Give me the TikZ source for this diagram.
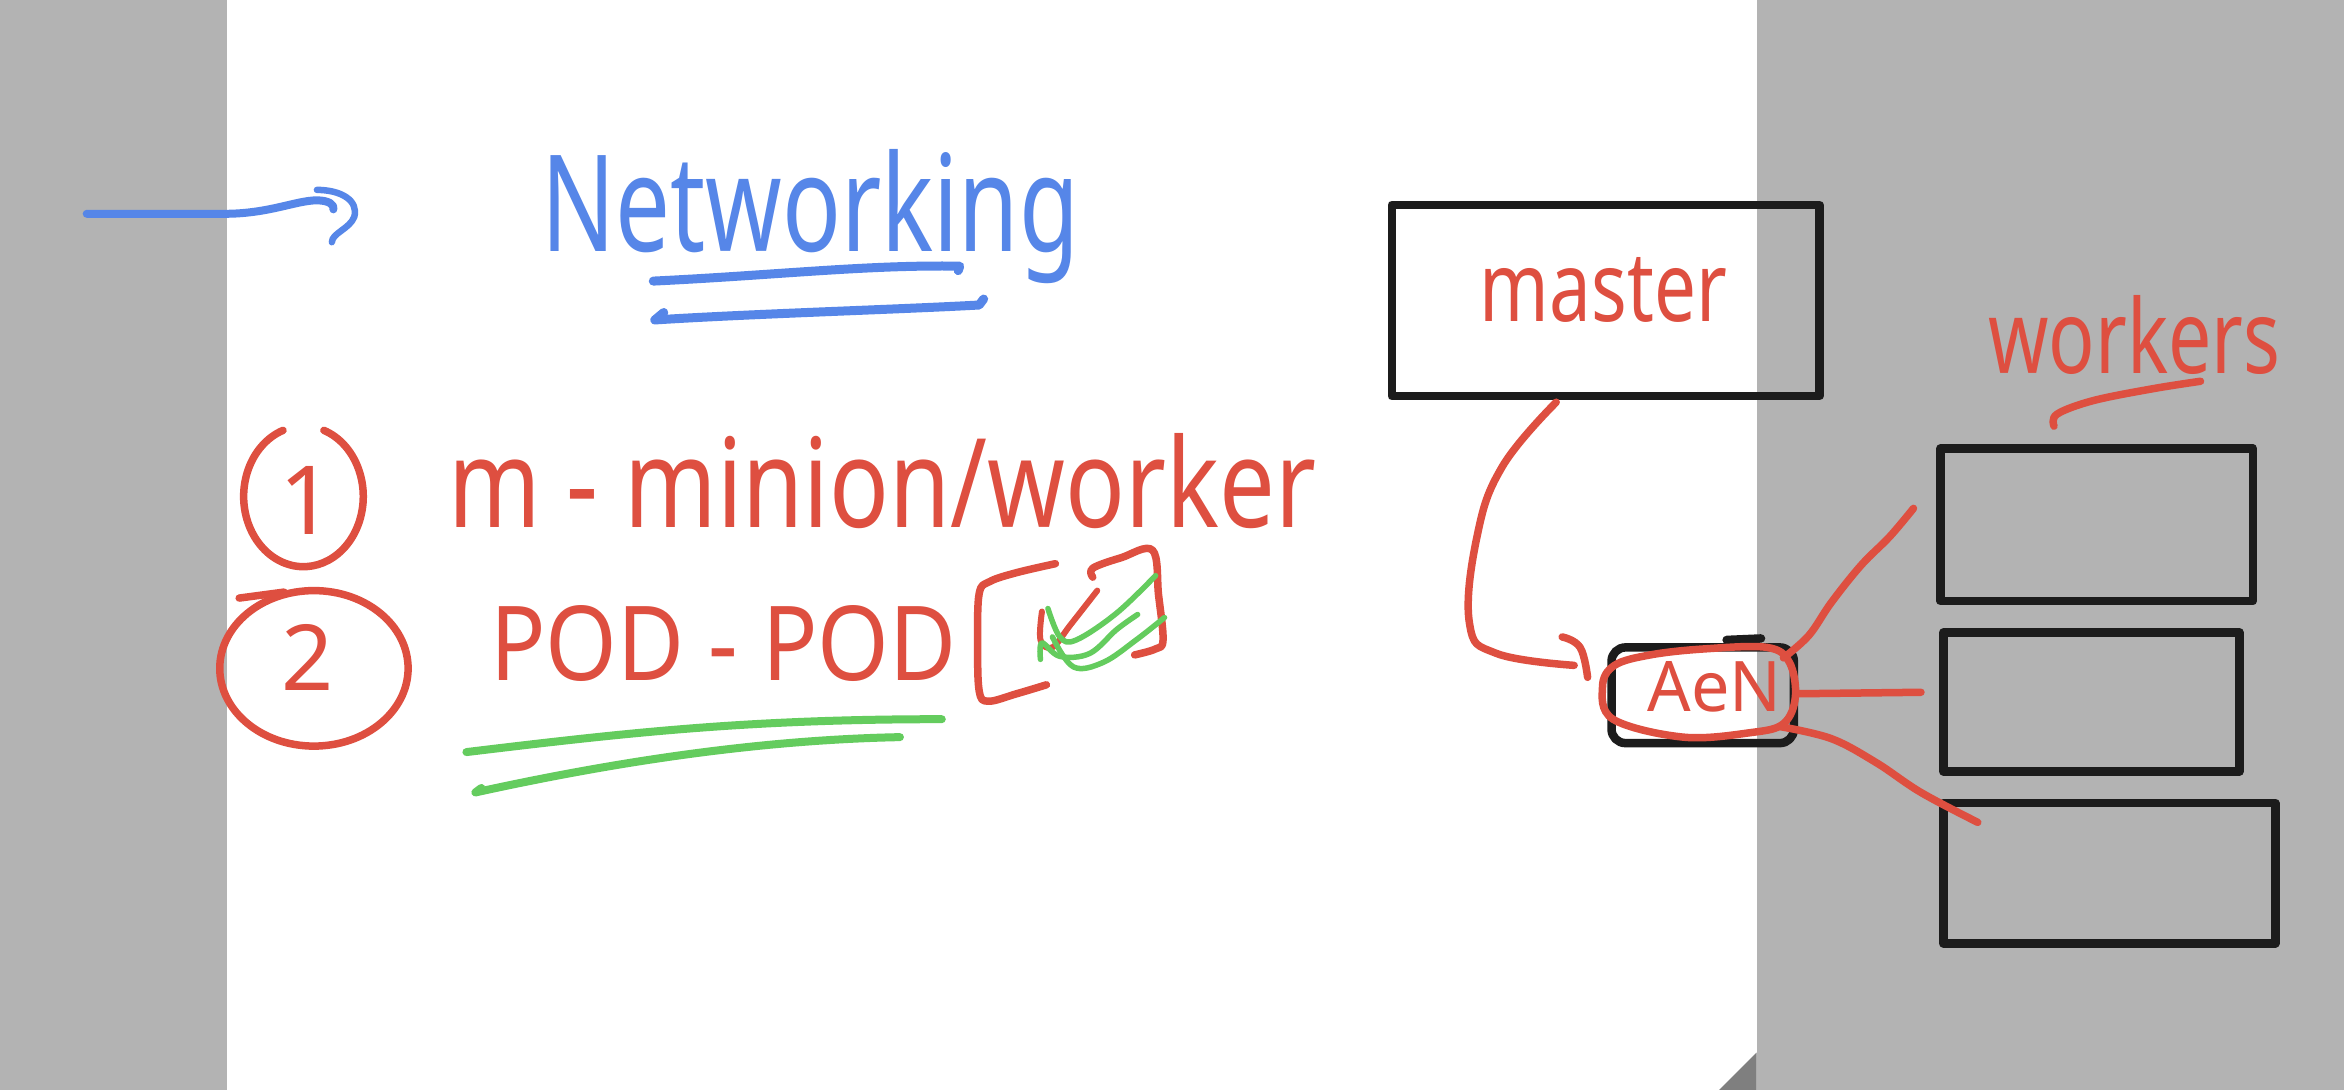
\documentclass[tikz,border=0pt]{standalone}
\usepackage{fontspec}
\setmainfont{Noto Sans}
\usepackage{graphicx}
\definecolor{inkblue}{HTML}{5686E8}
\definecolor{inkred}{HTML}{DE4F40}
\definecolor{inkgreen}{HTML}{64CC5E}
\definecolor{inkblack}{HTML}{1C1C1C}
\definecolor{bggray}{HTML}{B3B3B3}
\definecolor{foldgray}{HTML}{7F7F7F}
\begin{document}
\begin{tikzpicture}[x=1.4949pt,y=-1.4952pt,line cap=round,line join=round,
  redpen/.style={draw=inkred,line width=7.5pt},
  bluepen/.style={draw=inkblue,line width=8pt},
  greenpen/.style={draw=inkgreen,line width=7pt},
  blackpen/.style={draw=inkblack,line width=8.5pt},
  boxnode/.style={draw=inkblack,line width=8.5pt,inner sep=0pt},
  txt/.style={inner sep=0pt,outer sep=0pt}]
% background
\fill[bggray] (0,0) rectangle (1568,729);
\fill[white] (152,0) rectangle (1175,729);
\fill[foldgray] (1150,729) -- (1175,704) -- (1175,729) -- cycle;
\useasboundingbox (0,0) rectangle (1568,729);

% blue arrow
\coordinate (arrowtail) at (58,143);
\coordinate (arrowtip) at (223,140);
\draw[bluepen] (arrowtail) -- (150,143) .. controls (180,143) and (198,134) .. (212,134) .. controls (220,134) and (224,137) .. (arrowtip);
\draw[bluepen,line width=6.5pt] (212,127) .. controls (228,127) and (240,134) .. (237,145) .. controls (234,153) and (222,156) .. (222,162);

% title
\node[txt,text=inkblue,anchor=base west] (title) at (362,168) {\resizebox{538pt}{102pt}{Networking}};
\draw[bluepen,line width=9pt] (437,188) .. controls (520,184) and (580,177) .. (642,178) -- (641,181);
\draw[bluepen,line width=9pt] (444,209) -- (438,214) .. controls (500,210) and (600,207) .. (655,204) -- (658,200);

% item 1
\draw[redpen] ([shift={(290:40 and 47)}]203,332) arc[start angle=290,end angle=610,x radius=40,y radius=47];
\node[txt,text=inkred] (one) at (205,335) {\resizebox{!}{68pt}{1}};
\node[txt,text=inkred,anchor=base west] (item1) at (300,353) {\resizebox{867pt}{94pt}{m - minion/worker}};

% item 2
\draw[redpen] (210,447) ellipse [x radius=63,y radius=52];
\draw[redpen] (160,400) -- (190,396);
\node[txt,text=inkred] (two) at (206,440) {\resizebox{!}{66pt}{2}};
\node[txt,text=inkred,anchor=base west] (item2) at (328,455) {\resizebox{466pt}{75pt}{POD - POD}};

% bracket with checks
\draw[redpen] plot[smooth,tension=0.6] coordinates {(706,377) (680,383) (662,389) (655,397) (654,430) (655,462) (661,469) (680,464) (700,458)};
\draw[redpen] plot[smooth,tension=0.6] coordinates {(731,386) (731,380) (750,373) (771,368) (775,398) (778,428) (773,434) (759,438)};
\draw[redpen,line width=6pt] plot[smooth,tension=0.6] coordinates {(697,409) (696,428) (704,433) (716,418) (734,395)};
\draw[greenpen,line width=5.5pt] plot[smooth,tension=0.6] coordinates {(701,407) (709,426) (720,428) (747,410) (773,385)};
\draw[greenpen,line width=5.5pt] plot[smooth,tension=0.6] coordinates {(696,441) (697,430) (709,439) (729,437) (747,421) (761,411)};
\draw[greenpen,line width=5.5pt] plot[smooth,tension=0.6] coordinates {(704,426) (718,446) (738,443) (760,428) (779,413)};

% green underlines
\draw[greenpen,line width=8pt] (312,503) .. controls (420,490) and (500,481) .. (630,481);
\draw[greenpen,line width=8pt] (322,527) -- (318,530) .. controls (400,512) and (500,495) .. (602,493);

% master box
\node[boxnode,minimum width=427.5pt,minimum height=191.4pt] (master) at (1074,201) {};
\node[txt,text=inkred,anchor=base west] (mastertxt) at (990,215) {\resizebox{247pt}{64pt}{master}};

% workers label
\node[txt,text=inkred,anchor=base west] (workerstxt) at (1330,250) {\resizebox{292pt}{78pt}{workers}};
\draw[redpen] plot[smooth,tension=0.6] coordinates {(1374,285) (1376,277) (1400,268) (1440,260) (1472,255)};

% worker boxes
\node[boxnode,minimum width=312.4pt,minimum height=152.5pt] (w1) at (1402.5,351) {};
\node[boxnode,minimum width=296pt,minimum height=139pt] (w2) at (1399,469.5) {};
\node[boxnode,minimum width=331.9pt,minimum height=140.5pt] (w3) at (1411,584) {};

% small node box
\node[boxnode,rounded corners=14pt,minimum width=182.4pt,minimum height=95.7pt] (hub) at (1139,465) {};
\draw[blackpen] (1155,428) -- (1178,427);

% red connection from master
\draw[redpen] plot[smooth,tension=0.7] coordinates {(1041,269) (1005,312) (988,359) (983,417) (1001,437) (1053,445)};
\draw[redpen] plot[smooth,tension=0.7] coordinates {(1045,426) (1057,433) (1062,453)};

% red loop round hub
\draw[redpen] plot[smooth cycle,tension=0.6] coordinates {(1182,433) (1140,434) (1104,438) (1080,445) (1072,459) (1079,481) (1126,493) (1171,490) (1193,484) (1201,466) (1197,443)};
\node[txt,text=inkred,anchor=base west] (hubtxt) at (1102,476) {\resizebox{134pt}{50pt}{AeN}};

% red connections to workers
\draw[redpen] plot[smooth,tension=0.6] coordinates {(1193,440) (1210,425) (1225,403) (1245,378) (1264,359) (1280,340)};
\draw[redpen] (1202,464) -- (1285,463);
\draw[redpen] plot[smooth,tension=0.6] coordinates {(1191,486) (1225,494) (1255,510) (1285,530) (1323,550)};
\end{tikzpicture}
\end{document}
